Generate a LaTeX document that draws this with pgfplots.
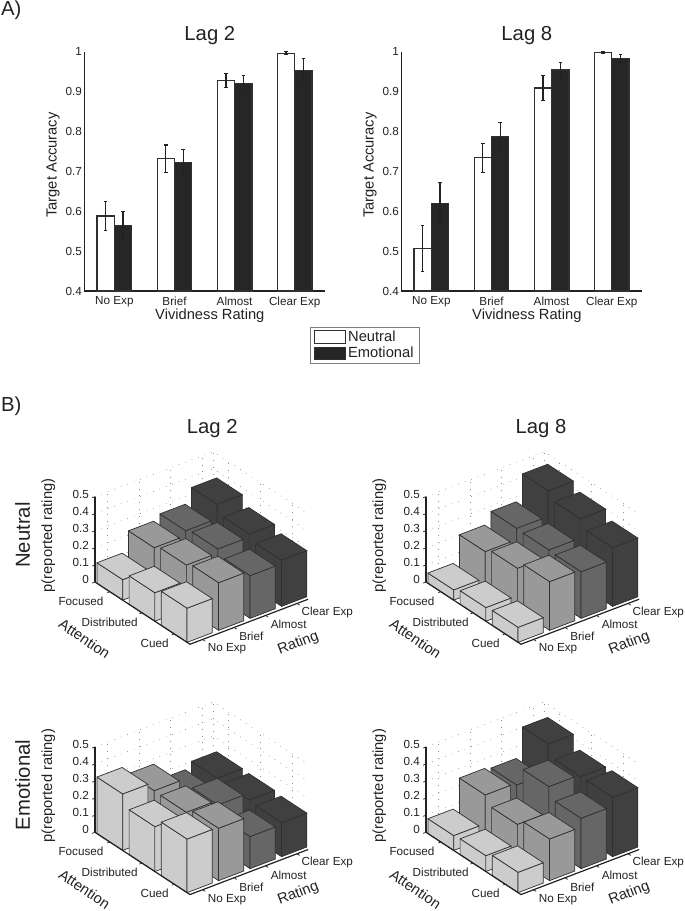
\documentclass[border=0pt]{standalone}
\usepackage{fontspec}
\setmainfont{Liberation Sans}
\usepackage{pgfplots}
\pgfplotsset{compat=1.18}

\definecolor{ink}{HTML}{222222}
\definecolor{edge}{HTML}{303030}
\definecolor{barblack}{HTML}{262626}
\definecolor{lev0}{HTML}{CCCCCC}
\definecolor{lev1}{HTML}{999999}
\definecolor{lev2}{HTML}{666666}
\definecolor{lev3}{HTML}{404040}

\newcommand{\tickfont}{\fontsize{11.7}{13}\selectfont}
\newcommand{\labfont}{\fontsize{14.7}{16}\selectfont}
\newcommand{\bigfont}{\fontsize{20.3}{22}\selectfont}

\pgfplotsset{
  accuracy/.style={
    scale only axis, width=240.5pt, height=239.3pt,
    anchor=south west,
    xmin=0.5, xmax=4.5, ymin=0.4, ymax=1,
    ybar=0pt, bar width=17.3pt,
    axis x line*=bottom, axis y line*=left,
    axis line style={color=ink, line width=1.2pt},
    major tick length=0pt,
    xtick={1,2,3,4},
    xticklabels={No Exp, Brief, Almost, Clear Exp},
    ytick={0.4,0.5,0.6,0.7,0.8,0.9,1},
    /pgf/number format/assume math mode=true,
    tick label style={font=\tickfont, text=ink},
    yticklabel style={xshift=1pt},
    xticklabel style={yshift=-2pt},
    xlabel=Vividness Rating, ylabel=Target Accuracy,
    xlabel style={at={(axis description cs:0.522,-0.102)}, anchor=center, font=\labfont, text=ink},
    ylabel style={at={(axis description cs:-0.13,0.5265)}, anchor=center, font=\labfont, text=ink},
    title style={at={(axis description cs:0.522,1.074)}, anchor=center, yshift=-7.5pt, font=\bigfont, text=ink},
    clip=false,
  },
  neutralbar/.style={draw=edge, fill=white, line width=1.25pt,
    legend image code/.code={\draw[draw=edge, fill=white, line width=1pt] (0pt,-6.3pt) rectangle (31.3pt,6.3pt);},
    error bars/.cd, y dir=both, y explicit,
    error bar style={color=ink, line width=1.2pt},
    error mark options={rotate=90, mark size=1.7pt, color=ink, line width=1.2pt}},
  emotionbar/.style={draw=edge, fill=barblack, line width=1.25pt,
    legend image code/.code={\draw[draw=edge, fill=barblack, line width=1pt] (0pt,-6.3pt) rectangle (31.3pt,6.3pt);},
    error bars/.cd, y dir=both, y explicit,
    error bar style={color=ink, line width=1.2pt},
    error mark options={rotate=90, mark size=1.7pt, color=ink, line width=1.2pt}},
  ratingbars/.style={
    hide axis, clip=false, disabledatascaling,
    x={(31.5pt,12pt)}, y={(32.2pt,-21.1pt)}, z={(0pt,170.7pt)},
    xmin=0, xmax=3.75, ymin=0, ymax=2.95, zmin=0, zmax=0.5,
    anchor=origin,
  },
  griddot/.style={forget plot, mark=none, color=black!45, line width=0.6pt, dash pattern=on 0.7pt off 6.2pt},
  axisline/.style={forget plot, mark=none, color=ink, line width=1.2pt},
}

% one 3-D bar: r0 r1 a0 a1 height colour
\newcommand{\onebar}[6]{%
  \addplot3[forget plot, mark=none, draw=edge, line width=0.7pt, fill=#6] coordinates {(#1,#3,0) (#1,#4,0) (#1,#4,#5) (#1,#3,#5) (#1,#3,0)};
  \addplot3[forget plot, mark=none, draw=edge, line width=0.7pt, fill=#6] coordinates {(#1,#4,0) (#2,#4,0) (#2,#4,#5) (#1,#4,#5) (#1,#4,0)};
  \addplot3[forget plot, mark=none, draw=edge, line width=0.7pt, fill=#6] coordinates {(#1,#3,#5) (#2,#3,#5) (#2,#4,#5) (#1,#4,#5) (#1,#3,#5)};
}
% one attention row, back to front: a0 a1, then No Exp, Brief, Almost, Clear Exp
\newcommand{\attrow}[6]{%
  \onebar{3}{3.8}{#1}{#2}{#6}{lev3}
  \onebar{2}{2.8}{#1}{#2}{#5}{lev2}
  \onebar{1}{1.8}{#1}{#2}{#4}{lev1}
  \onebar{0}{0.8}{#1}{#2}{#3}{lev0}
}
\newcommand{\backwalls}{%
  \pgfplotsinvokeforeach{0,0.1,0.2,0.3,0.4,0.5}{
    \addplot3[griddot] coordinates {(0,0,##1) (3.75,0,##1) (3.75,2.95,##1)};
  }
  \pgfplotsinvokeforeach{0.4,1.4,2.4,3.4}{
    \addplot3[griddot] coordinates {(##1,0,0) (##1,0,0.5)};
  }
  \pgfplotsinvokeforeach{0,0.46,1.46,2.46}{
    \addplot3[griddot] coordinates {(3.75,##1,0) (3.75,##1,0.5)};
  }
  \addplot3[axisline] coordinates {(0,0,0) (0,0,0.5)};
}
\newcommand{\flooraxes}{%
  \addplot3[axisline] coordinates {(0,0,0) (0,2.95,0) (3.75,2.95,0)};
  \pgfplotsinvokeforeach{0.4,1.4,2.4,3.4}{
    \addplot3[axisline, line width=0.7pt] coordinates {(##1,2.95,0) (##1,3.03,0)};
  }
  \pgfplotsinvokeforeach{0.46,1.46,2.46}{
    \addplot3[axisline, line width=0.7pt] coordinates {(0,##1,0) (-0.08,##1,0)};
  }
  \pgfplotsinvokeforeach{0,0.1,0.2,0.3,0.4,0.5}{
    \addplot3[axisline, line width=0.7pt] coordinates {(-0.09,0,##1) (0,0,##1)};
  }
  \foreach \v in {0,0.1,0.2,0.3,0.4,0.5} {
    \edef\tmp{\noexpand\node[anchor=east, font=\noexpand\tickfont, text=ink, inner sep=0pt, xshift=-6pt, yshift=2.5pt] at (axis cs:0,0,\v) {\v};}
    \tmp
  }
  \node[xshift=-46.7pt, yshift=46.5pt, font=\labfont, text=ink, rotate=90] at (axis cs:0,0,0) {p(reported rating)};
  \node[xshift=-14pt, yshift=-19pt, font=\tickfont, text=ink] at (axis cs:0,0,0) {Focused};
  \node[xshift=14.7pt, yshift=-40pt, font=\tickfont, text=ink] at (axis cs:0,0,0) {Distributed};
  \node[xshift=59.7pt, yshift=-61pt, font=\tickfont, text=ink] at (axis cs:0,0,0) {Cued};
  \node[xshift=132pt, yshift=-67pt, font=\tickfont, text=ink] at (axis cs:0,0,0) {No Exp};
  \node[xshift=156.3pt, yshift=-54.7pt, font=\tickfont, text=ink] at (axis cs:0,0,0) {Brief};
  \node[xshift=193.7pt, yshift=-42.7pt, font=\tickfont, text=ink] at (axis cs:0,0,0) {Almost};
  \node[xshift=232.3pt, yshift=-30.3pt, font=\tickfont, text=ink] at (axis cs:0,0,0) {Clear Exp};
  \node[xshift=-10.5pt, yshift=-56.7pt, font=\labfont, text=ink, rotate=-34] at (axis cs:0,0,0) {Attention};
  \node[xshift=203.3pt, yshift=-61.3pt, font=\labfont, text=ink, rotate=21] at (axis cs:0,0,0) {Rating};
}

\begin{document}
\begin{tikzpicture}
\path[use as bounding box] (0pt,0pt) rectangle (685pt,911pt);

\node[anchor=west, font=\bigfont, text=ink, inner sep=0pt] at (1pt,901pt) {A)};
\node[anchor=west, font=\bigfont, text=ink, inner sep=0pt] at (1pt,505pt) {B)};
\node[font=\bigfont, text=ink] at (212.3pt,482.5pt) {Lag 2};
\node[font=\bigfont, text=ink] at (541pt,482.5pt) {Lag 8};
\node[font=\bigfont, text=ink, rotate=90] at (22.7pt,376pt) {Neutral};
\node[font=\bigfont, text=ink, rotate=90] at (22.7pt,126pt) {Emotional};

% A) target accuracy
\begin{axis}[accuracy, at={(84.3pt,620pt)}, title=Lag 2,
  legend style={at={(axis description cs:1.166,-0.227)}, anchor=center, draw=black!50,
    line width=0.8pt, font=\labfont, text=ink, inner xsep=3.5pt, inner ysep=2pt,
    row sep=0pt, column sep=0pt, cells={anchor=west}}]
\addplot[neutralbar] coordinates {(1,0.588) +- (0,0.036) (2,0.732) +- (0,0.034) (3,0.928) +- (0,0.017) (4,0.996) +- (0,0.004)};
\addplot[emotionbar] coordinates {(1,0.564) +- (0,0.035) (2,0.722) +- (0,0.032) (3,0.921) +- (0,0.020) (4,0.952) +- (0,0.030)};
\legend{Neutral, Emotional}
\end{axis}

\begin{axis}[accuracy, at={(401.3pt,620pt)}, title=Lag 8]
\addplot[neutralbar] coordinates {(1,0.507) +- (0,0.058) (2,0.734) +- (0,0.036) (3,0.909) +- (0,0.031) (4,0.998) +- (0,0.003)};
\addplot[emotionbar] coordinates {(1,0.619) +- (0,0.054) (2,0.788) +- (0,0.035) (3,0.954) +- (0,0.018) (4,0.983) +- (0,0.009)};
\end{axis}

% B) Neutral, Lag 2
\begin{axis}[ratingbars, at={(95pt,329pt)}]
\backwalls
\attrow{0.06}{0.86}{0.12}{0.237}{0.266}{0.35}
\attrow{1.06}{1.86}{0.167}{0.259}{0.283}{0.30}
\attrow{2.06}{2.86}{0.20}{0.279}{0.25}{0.27}
\flooraxes
\end{axis}

% B) Neutral, Lag 8
\begin{axis}[ratingbars, at={(426pt,329pt)}]
\backwalls
\attrow{0.06}{0.86}{0.06}{0.214}{0.28}{0.43}
\attrow{1.06}{1.86}{0.08}{0.24}{0.277}{0.39}
\attrow{2.06}{2.86}{0.088}{0.285}{0.273}{0.344}
\flooraxes
\end{axis}

% B) Emotional, Lag 2
\begin{axis}[ratingbars, at={(95pt,78.7pt)}]
\backwalls
\attrow{0.06}{0.86}{0.331}{0.28}{0.177}{0.212}
\attrow{1.06}{1.86}{0.263}{0.277}{0.25}{0.208}
\attrow{2.06}{2.86}{0.314}{0.307}{0.188}{0.199}
\flooraxes
\end{axis}

% B) Emotional, Lag 8
\begin{axis}[ratingbars, at={(426pt,78.7pt)}]
\backwalls
\attrow{0.06}{0.86}{0.087}{0.255}{0.243}{0.413}
\attrow{1.06}{1.86}{0.093}{0.206}{0.357}{0.345}
\attrow{2.06}{2.86}{0.119}{0.244}{0.295}{0.348}
\flooraxes
\end{axis}
\end{tikzpicture}
\end{document}
